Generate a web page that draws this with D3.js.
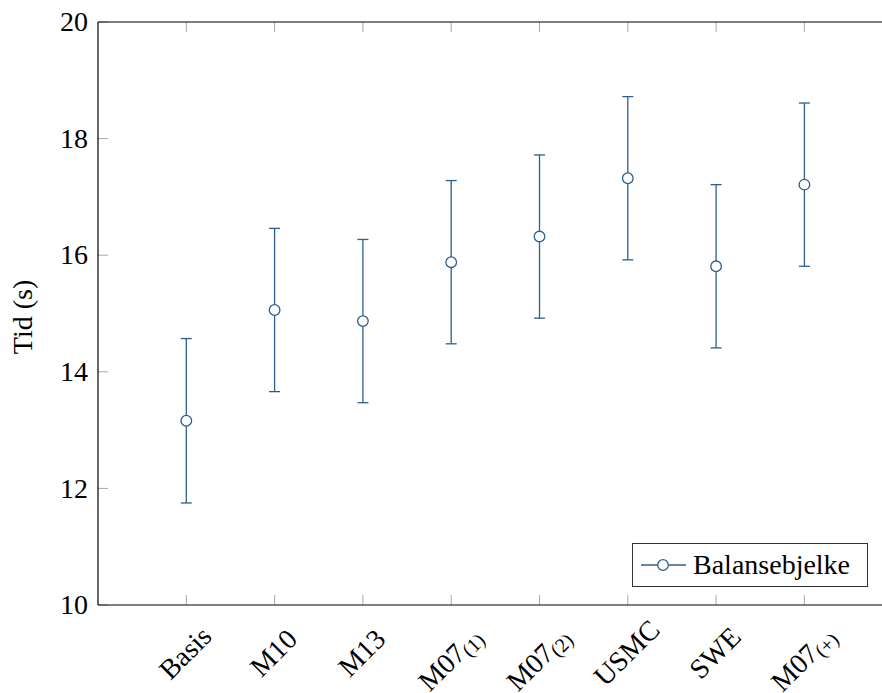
<!DOCTYPE html>
<html>
<head>
<meta charset="utf-8">
<script src="https://cdn.jsdelivr.net/npm/d3@7"></script>
</head>
<body style="margin:0; background:#fff">
<div id="chart"></div>
<script>
// categories, with optional subscript part
const categories = ["Basis", "M10", "M13", "M07", "M07", "USMC", "SWE", "M07"];
const subscripts = ["", "", "", "(1)", "(2)", "", "", "(+)"];
// mean time and error (s)
const means = [13.16, 15.06, 14.87, 15.88, 16.32, 17.32, 15.81, 17.21];
const errors = [1.41, 1.40, 1.40, 1.40, 1.40, 1.40, 1.40, 1.40];
const yTicks = [10, 12, 14, 16, 18, 20];
const seriesName = "Balansebjelke";

const width = 882, height = 693;
const plotLeft = 98, plotTop = 22, plotBottom = 605;
const lineColor = "#2f5e8c";
const serif = "'Liberation Serif'";

const svg = d3.select("#chart").append("svg")
    .attr("width", width)
    .attr("height", height);

// Scales
let x = d3.scaleLinear().domain([0, 9]).range([plotLeft, plotLeft + 9 * 88.3]);
let y = d3.scaleLinear().domain([10, 20]).range([plotBottom, plotTop]);

// tick marks (gray, inside)
const tickG = svg.append("g").attr("stroke", "#a8a8a8").attr("stroke-width", 1);
categories.forEach((c, i) => {
    tickG.append("line").attr("x1", x(i + 1)).attr("x2", x(i + 1))
        .attr("y1", plotBottom).attr("y2", plotBottom - 10);
    tickG.append("line").attr("x1", x(i + 1)).attr("x2", x(i + 1))
        .attr("y1", plotTop).attr("y2", plotTop + 10);
});
yTicks.forEach(t => {
    tickG.append("line").attr("x1", plotLeft).attr("x2", plotLeft + 10)
        .attr("y1", y(t)).attr("y2", y(t));
});

// axis lines
const axisG = svg.append("g").attr("stroke", "#000").attr("stroke-width", 1.2);
axisG.append("line").attr("x1", plotLeft).attr("x2", plotLeft).attr("y1", plotTop).attr("y2", plotBottom);
axisG.append("line").attr("x1", plotLeft).attr("x2", width).attr("y1", plotTop).attr("y2", plotTop);
axisG.append("line").attr("x1", plotLeft).attr("x2", width).attr("y1", plotBottom).attr("y2", plotBottom);

// y tick labels
svg.append("g").selectAll("text")
    .data(yTicks)
    .enter().append("text")
    .attr("x", 88)
    .attr("y", d => y(d))
    .attr("dy", "0.33em")
    .attr("text-anchor", "end")
    .style("font-family", serif)
    .style("font-size", "28px")
    .text(d => d);

// y axis label
svg.append("text")
    .attr("transform", "translate(32,317) rotate(-90)")
    .attr("text-anchor", "middle")
    .style("font-family", serif)
    .style("font-size", "28px")
    .text("Tid (s)");

// x tick labels, rotated 45deg
const xl = svg.append("g").selectAll("text")
    .data(categories)
    .enter().append("text")
    .attr("transform", (d, i) => {
        let cy = subscripts[i] ? 659 : 653;
        return "translate(" + (x(i + 1) - 1) + "," + cy + ") rotate(-45)";
    })
    .attr("text-anchor", "middle")
    .style("font-family", serif)
    .style("font-size", "28px");
xl.append("tspan").attr("dy", "0.33em").text(d => d);
xl.append("tspan")
    .style("font-size", "20px")
    .attr("dy", 4)
    .text((d, i) => subscripts[i]);

// error bars
const eb = svg.append("g").attr("stroke", lineColor).attr("stroke-width", 1.3).attr("fill", "none");
means.forEach((m, i) => {
    let cx = x(i + 1);
    eb.append("line").attr("x1", cx).attr("x2", cx)
        .attr("y1", y(m - errors[i])).attr("y2", y(m + errors[i]));
    eb.append("line").attr("x1", cx - 5.5).attr("x2", cx + 5.5)
        .attr("y1", y(m - errors[i])).attr("y2", y(m - errors[i]));
    eb.append("line").attr("x1", cx - 5.5).attr("x2", cx + 5.5)
        .attr("y1", y(m + errors[i])).attr("y2", y(m + errors[i]));
});

// markers
svg.append("g").selectAll("circle")
    .data(means)
    .enter().append("circle")
    .attr("cx", (d, i) => x(i + 1))
    .attr("cy", d => y(d))
    .attr("r", 5.3)
    .attr("fill", "#fff")
    .attr("stroke", lineColor)
    .attr("stroke-width", 1.3);

// legend
const lg = svg.append("g");
lg.append("rect")
    .attr("x", 632.5).attr("y", 543.5)
    .attr("width", 235).attr("height", 43)
    .attr("fill", "#fff")
    .attr("stroke", "#333").attr("stroke-width", 1);
lg.append("line")
    .attr("x1", 641).attr("x2", 686).attr("y1", 565).attr("y2", 565)
    .attr("stroke", lineColor).attr("stroke-width", 1.3);
lg.append("circle")
    .attr("cx", 663).attr("cy", 565).attr("r", 5.3)
    .attr("fill", "#fff").attr("stroke", lineColor).attr("stroke-width", 1.3);
lg.append("text")
    .attr("x", 693).attr("y", 565).attr("dy", "0.33em")
    .style("font-family", serif)
    .style("font-size", "28px")
    .text(seriesName);
</script>
</body>
</html>
